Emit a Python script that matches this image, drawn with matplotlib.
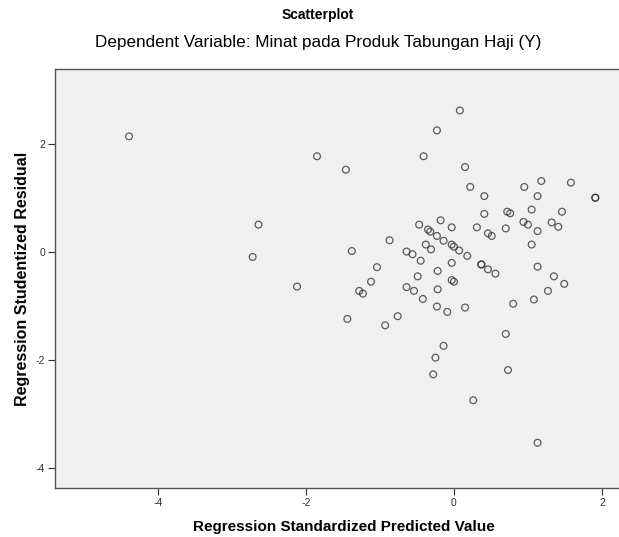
import numpy as np
import matplotlib
matplotlib.use('Agg')
import matplotlib.pyplot as plt

plt.rcParams['font.family'] = ['Liberation Sans', 'DejaVu Sans']
plt.rcParams['axes.unicode_minus'] = False

# standardized predicted value (x) and studentized residual (y)
pred = [-4.39, -1.85, -2.64, -2.72, -2.12, -1.46, 0.08, -0.23, -0.41, 0.15,
        0.22, 0.41, 0.95, 1.18, 1.13, 1.58, 1.91, 1.91, 0.41, 0.72,
        0.76, 1.05, 1.46, 0.31, 0.46, 0.51, 0.70, 0.94, 1.00, 1.13,
        1.32, 1.41, 1.05, -0.47, -0.18, -0.03, -0.35, -0.32, -0.23, -0.14,
        -0.03, 0.00, 0.07, 0.18, -0.38, -0.31, -0.64, -0.56, -0.45, -0.03,
        -0.87, -1.38, -1.04, -1.12, -1.28, -1.23, -0.49, -0.22, -0.03, 0.00,
        -0.64, -0.54, -0.22, -0.42, -0.23, -0.09, 0.15, 0.37, 0.37, 0.46,
        0.56, 1.13, 1.35, 1.49, 0.80, 1.08, 1.27, -1.44, -0.93, -0.76,
        0.70, -0.14, -0.25, -0.28, 0.73, 0.26, 1.13]
resid = [2.15, 1.78, 0.51, -0.09, -0.64, 1.53, 2.63, 2.26, 1.78, 1.58,
         1.21, 1.04, 1.21, 1.32, 1.04, 1.29, 1.01, 1.01, 0.71, 0.75,
         0.72, 0.79, 0.75, 0.46, 0.35, 0.30, 0.44, 0.56, 0.51, 0.39,
         0.55, 0.47, 0.14, 0.51, 0.59, 0.46, 0.42, 0.38, 0.30, 0.21,
         0.14, 0.10, 0.03, -0.07, 0.14, 0.05, 0.01, -0.04, -0.16, -0.20,
         0.22, 0.02, -0.28, -0.55, -0.72, -0.77, -0.45, -0.35, -0.52, -0.55,
         -0.65, -0.72, -0.69, -0.87, -1.01, -1.11, -1.03, -0.23, -0.23, -0.32,
         -0.40, -0.27, -0.45, -0.59, -0.96, -0.88, -0.72, -1.24, -1.36, -1.19,
         -1.52, -1.74, -1.96, -2.27, -2.19, -2.75, -3.54]

xticks = [-4, -2, 0, 2]
yticks = [2, 0, -2, -4]

fig = plt.figure(figsize=(6.19, 5.37), dpi=100)
ax = fig.add_axes([55 / 619, 49 / 537, 1 - 55 / 619, 419 / 537])
ax.set_facecolor('#f0f0f0')

ax.scatter(pred, resid, s=24, facecolors='none', edgecolors='#2a2a2a',
           linewidths=0.9, alpha=0.75)

ax.set_xlim(-5.39, 2.23)
ax.set_ylim(-4.38, 3.40)
ax.set_xticks(xticks)
ax.set_yticks(yticks)
ax.tick_params(direction='out', length=5, width=0.8, labelsize=7.5, colors='#333333', pad=2)
for side in ['left', 'bottom', 'top']:
    ax.spines[side].set_color('#555555')
    ax.spines[side].set_linewidth(1.0)
ax.spines['right'].set_visible(False)

ax.set_xlabel('Regression Standardized Predicted Value', fontsize=11, fontweight='bold', labelpad=8)
ax.xaxis.set_label_coords((344 - 55) / (619 - 55), -0.077)
ax.set_ylabel('Regression Studentized Residual', fontsize=11.5, fontweight='bold', labelpad=4)

cx = 318 / 619
fig.text(cx, 1 - 15 / 537, 'Scatterplot', ha='center', va='center',
         fontsize=10, fontweight='bold')
fig.text(cx, 1 - 43 / 537,
         'Dependent Variable: Minat pada Produk Tabungan Haji (Y)',
         ha='center', va='center', fontsize=12.3)

fig.savefig('out.png', dpi=100)
